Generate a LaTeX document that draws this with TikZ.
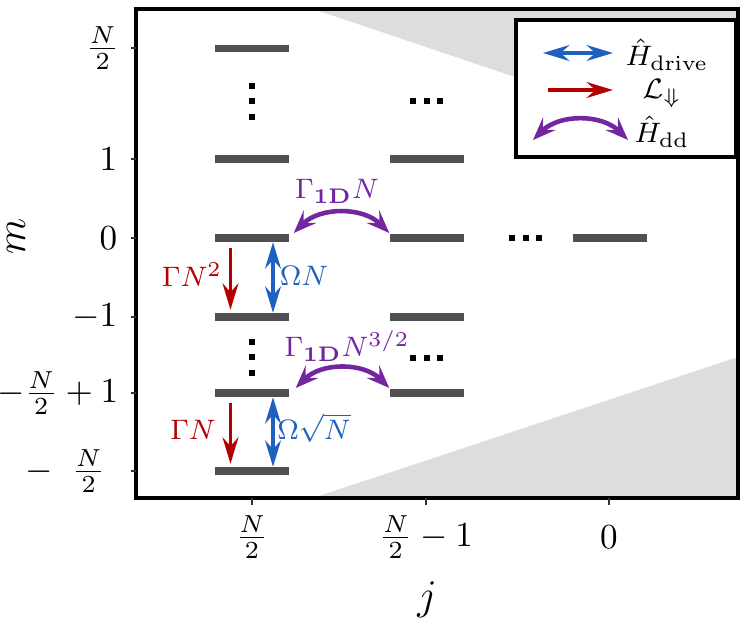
\documentclass[tikz,border=0pt]{standalone}
\usepackage{amsmath,amssymb}
\usetikzlibrary{arrows.meta, positioning, calc}
\definecolor{levelgray}{HTML}{505050}
\definecolor{shadegray}{HTML}{DDDDDD}
\definecolor{decayred}{HTML}{B40000}
\definecolor{driveblue}{HTML}{2060C0}
\definecolor{ddpurple}{HTML}{7326A0}

\tikzset{
  energybar/.style={fill=levelgray, draw=none, inner sep=0pt,
    minimum width=0.74cm, minimum height=0.07cm},
  axisframe/.style={line width=1.1pt, black},
  tickmark/.style={line width=0.4pt, black!80},
  decay/.style={->, line width=1pt, decayred,
    >={Stealth[length=7.5pt, width=4.5pt, inset=2.5pt]}},
  drive/.style={<->, line width=1pt, driveblue,
    >={Stealth[length=7.5pt, width=4.5pt, inset=2.5pt]}},
  dipole/.style={<->, line width=1.3pt, ddpurple,
    >={Stealth[length=6.5pt, width=5pt, inset=2.5pt]}},
  ratelabel/.style={font=\footnotesize, inner sep=1pt},
  dotsq/.style={fill=black}
}

\begin{document}
\begin{tikzpicture}[x=0.01cm, y=-0.01cm]
  \useasboundingbox (0,0) rectangle (747,624);

  % shaded corners
  \fill[shadegray] (313,9) -- (738,9) -- (738,152) -- cycle;
  \fill[shadegray] (313,498) -- (738,357) -- (738,498) -- cycle;

  % frame, ticks and axis labels
  \draw[axisframe] (136,9) rectangle (738,498);
  \foreach \y/\lab/\xr [count=\i] in {
    48/{$\frac{N}{2}$}/120, 159/{$1$}/118, 238/{$0$}/118,
    317/{$-1$}/118, 393/{$-\frac{N}{2}+1$}/119, 471/{$-\;\;\frac{N}{2}$}/106
  } {
    \draw[tickmark] (136,\y) -- (131,\y);
    \node[anchor=east, inner sep=0pt] (ytick\i) at (\xr,\y) {\lab};
  }
  \foreach \x/\lab [count=\i] in {
    252/{$\frac{N}{2}$}, 426/{$\frac{N}{2}-1$}, 609/{$0$}
  } {
    \draw[tickmark] (\x,498) -- (\x,505);
    \node[inner sep=0pt] (xtick\i) at (\x,537) {\lab};
  }
  \node[rotate=90, font=\large, inner sep=0pt] (mlabel) at (16,236) {$m$};
  \node[font=\large, inner sep=0pt] (jlabel) at (427,600) {$j$};

  % levels, j = N/2
  \node[energybar] (b1top) at (252,48) {};
  \node[energybar] (b1one) at (252,159) {};
  \node[energybar] (b1zero) at (252,238) {};
  \node[energybar] (b1mone) at (252,317) {};
  \node[energybar] (b1low) at (252,393) {};
  \node[energybar] (b1bot) at (252,471) {};
  % levels, j = N/2 - 1
  \node[energybar] (b2one) at (427,159) {};
  \node[energybar] (b2zero) at (427,238) {};
  \node[energybar] (b2mone) at (427,317) {};
  \node[energybar] (b2low) at (427,393) {};
  % level, j = 0
  \node[energybar] (b3zero) at (610,238) {};

  % dots
  \foreach \y in {86,101,117,342,357,373}
    \fill[dotsq] (249.5,\y+2.7) rectangle +(5.4,-5.4);
  \foreach \x in {413,427,440} {
    \fill[dotsq] (\x-2.7,103.7) rectangle +(5.4,-5.4);
    \fill[dotsq] (\x-2.7,360.7) rectangle +(5.4,-5.4);
  }
  \foreach \x in {512,526,539}
    \fill[dotsq] (\x-2.7,240.7) rectangle +(5.4,-5.4);

  % transitions
  \draw[decay] ([xshift=-0.215cm, yshift=-0.06cm]b1zero.south)
    -- ([xshift=-0.215cm, yshift=0.03cm]b1mone.north);
  \draw[drive] ([xshift=0.21cm]b1zero.south) -- ([xshift=0.21cm]b1mone.north);
  \draw[decay] ([xshift=-0.215cm, yshift=-0.06cm]b1low.south)
    -- ([xshift=-0.215cm, yshift=0.03cm]b1bot.north);
  \draw[drive] ([xshift=0.21cm]b1low.south) -- ([xshift=0.21cm]b1bot.north);
  \draw[dipole] ([xshift=0.04cm, yshift=0.05cm]b1zero.east)
    to[bend left=45] ([yshift=0.05cm]b2zero.west);
  \draw[dipole] ([xshift=0.06cm, yshift=0.05cm]b1low.east)
    to[bend left=45] ([yshift=0.05cm]b2low.west);

  \node[ratelabel, decayred] (gn2) at (192,275) {$\Gamma N^2$};
  \node[ratelabel, driveblue] (omn) at (304,276) {$\Omega N$};
  \node[ratelabel, decayred] (gn) at (193,430) {$\Gamma N$};
  \node[ratelabel, driveblue] (omsq) at (314,428) {$\Omega\sqrt{N}$};
  \node[ratelabel, ddpurple] (g1dn) at (337,191) {$\Gamma_{\mathbf{1D}}N$};
  \node[ratelabel, ddpurple] (g1dn32) at (347,346) {$\Gamma_{\mathbf{1D}}N^{3/2}$};

  % legend
  \node[draw=black, line width=1.1pt, fill=white, minimum width=2.2cm,
    minimum height=1.37cm, inner sep=0pt] (legend) at (626,88.5) {};
  \coordinate (ldriveA) at (543,53);
  \coordinate (ldriveB) at (613,53);
  \coordinate (ldecayA) at (548,90);
  \coordinate (ldecayB) at (613,90);
  \coordinate (lddA) at (533,140);
  \coordinate (lddB) at (628,140);
  \draw[drive] (ldriveA) -- (ldriveB);
  \draw[decay] (ldecayA) -- (ldecayB);
  \draw[dipole] (lddA) to[bend left=45] (lddB);
  \node[ratelabel] (ldrive) at (667,55) {$\hat{H}_{\mathrm{drive}}$};
  \node[ratelabel] (ldecay) at (662,93) {$\mathcal{L}_{\Downarrow}$};
  \node[ratelabel] (ldd) at (662,132) {$\hat{H}_{\mathrm{dd}}$};
\end{tikzpicture}
\end{document}
